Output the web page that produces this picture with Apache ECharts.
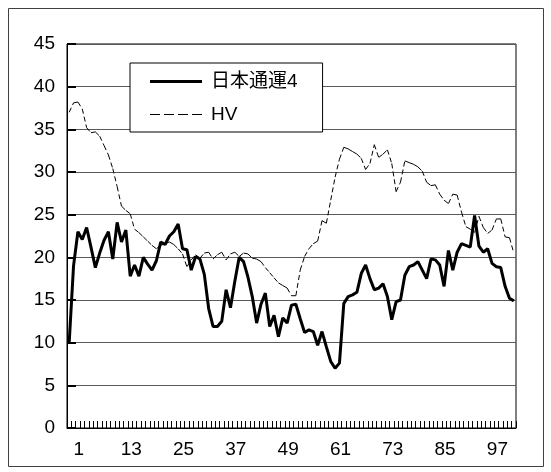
<!DOCTYPE html>
<html>
<head>
<meta charset="utf-8">
<script src="https://cdn.jsdelivr.net/npm/echarts@6/dist/echarts.min.js"></script>
<style>
html,body{margin:0;padding:0;background:#fff;}
#chart{width:551px;height:472px;}
</style>
</head>
<body>
<div id="chart"></div>
<script>
// category names (period numbers), tick labels and series values
const categories = [];
for (let i = 0; i < 103; i++) categories.push(String(i - 1));
const tickLabels = ['1','13','25','37','49','61','73','85','97'];
const yTicks = [0,5,10,15,20,25,30,35,40,45];

const seriesNames = ['日本通運4', 'HV'];

const nittsu = [
10.0,19.0,23.0,22.1,23.5,21.2,18.8,20.5,22.0,23.0,
19.8,24.1,21.8,23.2,17.8,19.1,17.8,20.0,19.2,18.5,
19.6,21.8,21.5,22.5,23.0,23.9,21.0,20.9,18.5,20.1,
19.8,18.0,14.0,11.9,11.9,12.5,16.2,14.1,17.2,20.0,
19.5,17.7,15.4,12.3,14.5,15.8,11.9,13.2,10.7,12.9,
12.3,14.4,14.5,12.8,11.2,11.5,11.3,9.7,11.3,9.5,
7.8,7.0,7.6,14.6,15.4,15.6,15.9,18.1,19.1,17.5,
16.2,16.4,16.9,15.4,12.7,14.8,15.0,17.9,18.9,19.1,
19.5,18.5,17.5,19.8,19.7,19.1,16.6,20.8,18.5,20.6,
21.6,21.4,21.2,24.9,21.3,20.6,21.0,19.3,18.9,18.8,
16.6,15.2,14.9
];

const hv = [
37.0,38.1,38.2,37.4,35.2,34.6,34.7,34.2,33.1,32.0,
30.4,28.3,26.0,25.5,25.1,23.3,22.9,22.4,21.9,21.4,
21.0,21.4,21.6,21.8,21.5,21.0,20.4,18.9,19.7,20.3,
19.9,20.5,20.6,19.8,20.3,20.6,19.7,20.4,20.6,20.1,
20.5,20.4,19.9,19.8,19.5,18.8,18.2,17.6,17.0,16.7,
16.4,15.5,15.5,18.5,20.1,21.0,21.6,21.9,24.3,24.0,
26.7,29.4,31.5,32.9,32.7,32.4,32.1,31.6,30.3,31.0,
33.2,31.7,32.1,32.6,31.0,27.7,28.8,31.3,31.1,30.9,
30.6,30.1,28.8,28.4,28.5,27.4,26.7,26.3,27.4,27.3,
25.3,23.6,23.3,22.9,24.8,23.5,22.8,23.2,24.5,24.5,
22.4,22.3,20.5
];

const chart = echarts.init(document.getElementById('chart'), null, {renderer: 'canvas'});

const dashIcon = 'path://M0,0h10v1h-10z M14,0h10v1h-10z M28,0h10v1h-10z M42,0h10v1h-10z';
const solidIcon = 'path://M0,0h52v3h-52z';
const fontFam = 'Liberation Sans, Arial, sans-serif';

const option = {
  animation: false,
  backgroundColor: '#ffffff',
  graphic: [{
    type: 'rect',
    shape: {x: 8.5, y: 8.5, width: 535, height: 458},
    style: {fill: 'none', stroke: '#404040', lineWidth: 1},
    silent: true,
    z: -1
  }],
  grid: {
    left: 67, right: 35, top: 44, bottom: 44,
    show: true, borderColor: '#000', borderWidth: 1, backgroundColor: '#fff'
  },
  legend: {
    left: 130, top: 63,
    orient: 'vertical',
    backgroundColor: '#fff',
    borderColor: '#000', borderWidth: 1, borderRadius: 0,
    padding: [9, 25, 8, 20],
    itemGap: 14,
    itemWidth: 52, itemHeight: 14,
    textStyle: {fontFamily: 'Liberation Sans, Noto Sans CJK JP, sans-serif', fontSize: 19, color: '#000', padding: [0, 0, 0, 4]},
    data: [
      {name: seriesNames[0], icon: solidIcon},
      {name: seriesNames[1], icon: dashIcon}
    ]
  },
  xAxis: {
    type: 'category',
    data: categories,
    boundaryGap: true,
    axisLine: {show: true, lineStyle: {color: '#000', width: 1}},
    axisTick: {show: true, inside: true, length: 7, interval: 0, lineStyle: {color: '#000', width: 1}},
    axisLabel: {
      interval: function (idx, val) { return tickLabels.indexOf(val) >= 0; },
      color: '#000', fontSize: 19, fontFamily: fontFam, margin: 12, padding: [0, 0, 0, 2]
    },
    splitLine: {show: false}
  },
  yAxis: {
    type: 'value',
    min: yTicks[0], max: yTicks[yTicks.length - 1], interval: 5,
    axisLine: {show: true, lineStyle: {color: '#000', width: 1}},
    axisTick: {show: true, inside: true, length: 9, lineStyle: {color: '#000', width: 2}},
    axisLabel: {color: '#000', fontSize: 19, fontFamily: fontFam, margin: 12},
    splitLine: {show: true, lineStyle: {color: '#5a5a5a', width: 1}}
  },
  series: [
    {
      name: seriesNames[0],
      type: 'line',
      data: nittsu,
      symbol: 'none',
      itemStyle: {color: '#000'},
      lineStyle: {color: '#000', width: 3},
      z: 3
    },
    {
      name: seriesNames[1],
      type: 'custom',
      coordinateSystem: 'cartesian2d',
      itemStyle: {color: '#000'},
      data: hv.map(function (v, i) { return [i, v]; }),
      encode: {x: 0, y: 1},
      renderItem: function (params, api) {
        const i = params.dataIndex;
        if (i === 0) return null;
        const p0 = api.coord([i - 1, hv[i - 1]]);
        const p1 = api.coord([i, hv[i]]);
        return {
          type: 'line',
          shape: {x1: p0[0], y1: p0[1], x2: p1[0], y2: p1[1]},
          style: {stroke: '#000', lineWidth: 1, lineDash: [5, 3], fill: null}
        };
      },
      z: 2
    }
  ]
};
chart.setOption(option);
</script>
</body>
</html>
